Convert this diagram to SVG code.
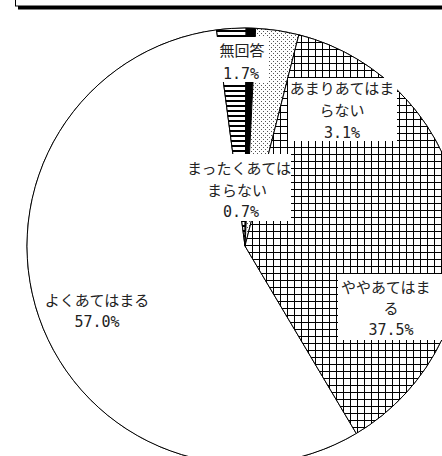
<svg xmlns="http://www.w3.org/2000/svg" width="442" height="456" viewBox="0 0 442 456">
<style>
.jp{font-family:"Noto Sans CJK JP","Noto Sans CJK SC",sans-serif;font-size:15px;fill:#222}
.num{font-family:"DejaVu Sans Mono","Liberation Mono",monospace;font-size:15px;fill:#222}
.wedge{stroke:#000;stroke-width:1;stroke-linejoin:round}
.lbl{fill:#fff}
</style>
<defs>
<pattern id="grid" patternUnits="userSpaceOnUse" width="7" height="7">
<rect width="7" height="7" fill="#fff"/>
<path d="M0 0.5H7M0.5 0V7" stroke="#000" stroke-width="1" shape-rendering="crispEdges"/>
</pattern>
<pattern id="dots" patternUnits="userSpaceOnUse" width="4" height="4">
<rect width="4" height="4" fill="#fff"/>
<rect x="1" y="1" width="1" height="1" fill="#555"/>
<rect x="3" y="3" width="1" height="1" fill="#555"/>
</pattern>
<pattern id="stripes" patternUnits="userSpaceOnUse" width="5" height="5">
<rect width="5" height="5" fill="#fff"/>
<rect y="0" width="5" height="2" fill="#000"/>
</pattern>
</defs>

<g id="title-box">
<rect x="15.5" y="-6" width="440" height="12" fill="#fff" stroke="#000" stroke-width="1"/>
<rect x="18" y="6" width="430" height="3.5" fill="#000"/>
</g>

<g id="connectors">
<circle cx="245" cy="246" r="218" fill="none" stroke="#222" stroke-width="1"/>
</g>

<g id="slice-yoku">
<path class="wedge" fill="#fff" d="M245 246 L356.3 433.45 A218 218 0 1 1 216.54 29.87 Z"/>
</g>
<g id="slice-muk">
<path class="wedge" fill="url(#stripes)" d="M245 246 L216.54 29.87 A218 218 0 0 1 246.14 28 Z"/>
</g>
<g id="slice-mattaku">
<path class="wedge" fill="#000" d="M245 246 L246.14 28 A218 218 0 0 1 255.65 28.26 Z"/>
</g>
<g id="slice-amari">
<path class="wedge" fill="url(#dots)" d="M245 246 L255.65 28.26 A218 218 0 0 1 298.85 34.75 Z"/>
</g>
<g id="slice-yaya">
<path class="wedge" fill="url(#grid)" d="M245 246 L298.85 34.75 A218 218 0 0 1 356.3 433.45 Z"/>
</g>

<g id="label-muk">
<rect class="lbl" x="211" y="37" width="57" height="45"/>
<text class="jp" x="242" y="56" text-anchor="middle">無回答</text>
<text class="num" x="241" y="79" text-anchor="middle">1.7%</text>
</g>
<g id="label-amari">
<rect class="lbl" x="288" y="78" width="109" height="63"/>
<text class="jp" x="342" y="94" text-anchor="middle">あまりあてはま</text>
<text class="jp" x="342" y="116" text-anchor="middle">らない</text>
<text class="num" x="342" y="138" text-anchor="middle">3.1%</text>
</g>
<g id="label-mattaku">
<rect class="lbl" x="183" y="154" width="108" height="67"/>
<text class="jp" x="239" y="174" text-anchor="middle">まったくあては</text>
<text class="jp" x="237" y="196" text-anchor="middle">まらない</text>
<text class="num" x="241" y="217" text-anchor="middle">0.7%</text>
</g>
<g id="label-yaya">
<rect class="lbl" x="338" y="274" width="104" height="66"/>
<text class="jp" x="341" y="293">ややあてはま</text>
<text class="jp" x="391" y="314" text-anchor="middle">る</text>
<text class="num" x="391" y="335" text-anchor="middle">37.5%</text>
</g>
<g id="label-yoku">
<text class="jp" x="97" y="306" text-anchor="middle">よくあてはまる</text>
<text class="num" x="97" y="327" text-anchor="middle">57.0%</text>
</g>
</svg>
